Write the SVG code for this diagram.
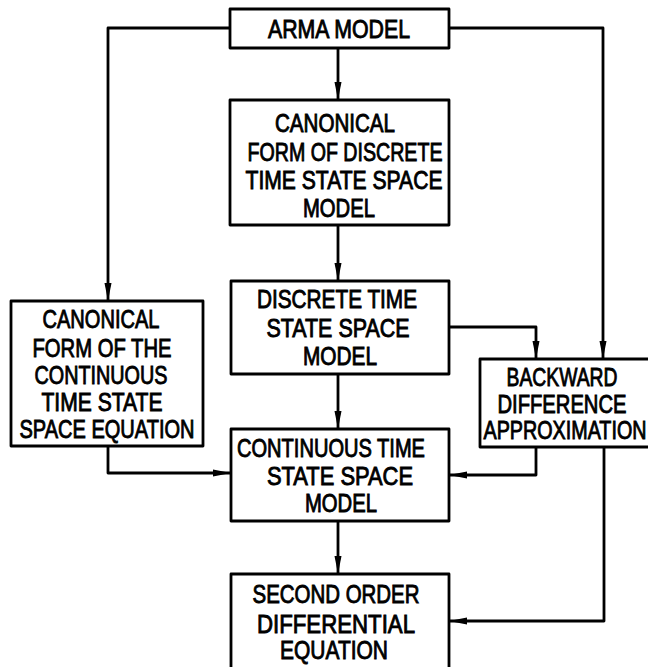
<svg xmlns="http://www.w3.org/2000/svg" width="648" height="667" viewBox="0 0 648 667">
  <style>
    .box { fill: #fff; stroke: #000; stroke-width: 2.8; stroke-linejoin: round; }
    .lbl { font-family: "Liberation Sans", Arial, sans-serif; font-size: 25.5px; fill: #000; stroke: #000; stroke-width: 0.9; text-anchor: middle; }
    .wire { fill: none; stroke: #000; stroke-width: 2.8; stroke-linejoin: round; }
  </style>
  <defs>
    <marker id="head" viewBox="0 0 18 8" refX="18" refY="4" markerWidth="18" markerHeight="8" markerUnits="userSpaceOnUse" orient="auto">
      <path d="M0,0.5 L18,4 L0,7.5 z" fill="#000"/>
    </marker>
  </defs>
  <rect width="648" height="667" fill="#fff"/>

  <g id="connectors">
    <path class="wire" d="M338,48 V100" marker-end="url(#head)"/>
    <path class="wire" d="M338,225 V281" marker-end="url(#head)"/>
    <path class="wire" d="M338,374 V429" marker-end="url(#head)"/>
    <path class="wire" d="M338,521 V574" marker-end="url(#head)"/>
    <path class="wire" d="M230,28 H108 V301" marker-end="url(#head)"/>
    <path class="wire" d="M449,28 H603 V359" marker-end="url(#head)"/>
    <path class="wire" d="M449,327 H536 V359" marker-end="url(#head)"/>
    <path class="wire" d="M536,447 V475 H449" marker-end="url(#head)"/>
    <path class="wire" d="M604,447 V621 H449" marker-end="url(#head)"/>
    <path class="wire" d="M108,446 V473 H231" marker-end="url(#head)"/>
  </g>

  <g id="arma">
    <rect class="box" x="230" y="9" width="219" height="39"/>
    <text class="lbl" x="339" y="38" textLength="142" lengthAdjust="spacingAndGlyphs">ARMA MODEL</text>
  </g>

  <g id="canonical-discrete">
    <rect class="box" x="230" y="100" width="219" height="125"/>
    <text class="lbl" x="335" y="132" textLength="120" lengthAdjust="spacingAndGlyphs">CANONICAL</text>
    <text class="lbl" x="345" y="161" textLength="195" lengthAdjust="spacingAndGlyphs">FORM OF DISCRETE</text>
    <text class="lbl" x="344" y="189" textLength="197" lengthAdjust="spacingAndGlyphs">TIME STATE SPACE</text>
    <text class="lbl" x="339" y="217" textLength="72" lengthAdjust="spacingAndGlyphs">MODEL</text>
  </g>

  <g id="discrete">
    <rect class="box" x="231" y="281" width="218" height="93"/>
    <text class="lbl" x="337" y="308" textLength="160" lengthAdjust="spacingAndGlyphs">DISCRETE TIME</text>
    <text class="lbl" x="338" y="337" textLength="143" lengthAdjust="spacingAndGlyphs">STATE SPACE</text>
    <text class="lbl" x="340" y="365" textLength="74" lengthAdjust="spacingAndGlyphs">MODEL</text>
  </g>

  <g id="canonical-continuous">
    <rect class="box" x="11" y="301" width="192" height="145"/>
    <text class="lbl" x="101" y="328" textLength="117" lengthAdjust="spacingAndGlyphs">CANONICAL</text>
    <text class="lbl" x="102" y="357" textLength="139" lengthAdjust="spacingAndGlyphs">FORM OF THE</text>
    <text class="lbl" x="101" y="384" textLength="133" lengthAdjust="spacingAndGlyphs">CONTINUOUS</text>
    <text class="lbl" x="102" y="411" textLength="121" lengthAdjust="spacingAndGlyphs">TIME STATE</text>
    <text class="lbl" x="107" y="438" textLength="175" lengthAdjust="spacingAndGlyphs">SPACE EQUATION</text>
  </g>

  <g id="backward">
    <rect class="box" x="480" y="359" width="180" height="88"/>
    <text class="lbl" x="562" y="386" textLength="111" lengthAdjust="spacingAndGlyphs">BACKWARD</text>
    <text class="lbl" x="562" y="413" textLength="129" lengthAdjust="spacingAndGlyphs">DIFFERENCE</text>
    <text class="lbl" x="565" y="439" textLength="163" lengthAdjust="spacingAndGlyphs">APPROXIMATION</text>
  </g>

  <g id="continuous">
    <rect class="box" x="231" y="429" width="218" height="92"/>
    <text class="lbl" x="331" y="457" textLength="188" lengthAdjust="spacingAndGlyphs">CONTINUOUS TIME</text>
    <text class="lbl" x="340" y="485" textLength="146" lengthAdjust="spacingAndGlyphs">STATE SPACE</text>
    <text class="lbl" x="341" y="512" textLength="72" lengthAdjust="spacingAndGlyphs">MODEL</text>
  </g>

  <g id="second-order">
    <rect class="box" x="231" y="574" width="218" height="100"/>
    <text class="lbl" x="336" y="603" textLength="167" lengthAdjust="spacingAndGlyphs">SECOND ORDER</text>
    <text class="lbl" x="336" y="633" textLength="158" lengthAdjust="spacingAndGlyphs">DIFFERENTIAL</text>
    <text class="lbl" x="334" y="659" textLength="108" lengthAdjust="spacingAndGlyphs">EQUATION</text>
  </g>
</svg>
